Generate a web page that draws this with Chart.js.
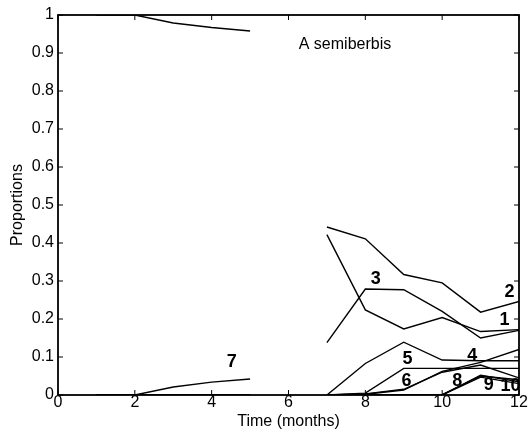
<!DOCTYPE html>
<html>
<head>
<meta charset="utf-8">
<script src="https://cdn.jsdelivr.net/npm/chart.js@4/dist/chart.umd.min.js"></script>
<style>
  html, body { margin: 0; padding: 0; background: #fff; }
</style>
</head>
<body>
<canvas id="myChart" width="531" height="436"></canvas>
<script>
// months 1..12, month 6 has no sample (gap)
const months = [1, 2, 3, 4, 5, 6, 7, 8, 9, 10, 11, 12];

const s1 = [1, 1, 0.979, 0.967, 0.958, null, 0.422, 0.224, 0.174, 0.204, 0.167, 0.172];
const s2 = [0, 0, 0, 0, 0, null, 0.442, 0.411, 0.317, 0.295, 0.218, 0.246];
const s3 = [0, 0, 0, 0, 0, null, 0.138, 0.279, 0.277, 0.22, 0.15, 0.17];
const s4 = [0, 0, 0, 0, 0, null, 0, 0.002, 0.013, 0.062, 0.086, 0.12];
const s5 = [0, 0, 0, 0, 0, null, 0, 0.083, 0.139, 0.092, 0.09, 0.09];
const s6 = [0, 0, 0, 0, 0, null, 0, 0.003, 0.015, 0.06, 0.079, 0.045];
const s7 = [0, 0, 0.021, 0.034, 0.042, null, 0, 0.005, 0.07, 0.07, 0.07, 0.07];
const s8 = [0, 0, 0, 0, 0, null, 0, 0, 0, 0.001, 0.05, 0.04];
const s9 = [0, 0, 0, 0, 0, null, 0, 0, 0, 0, 0.052, 0.035];
const s10 = [0, 0, 0, 0, 0, null, 0, 0, 0, 0, 0.047, 0.03];

const allSeries = [s1, s2, s3, s4, s5, s6, s7, s8, s9, s10];

const yTickLabels = ["0", "0.1", "0.2", "0.3", "0.4", "0.5", "0.6", "0.7", "0.8", "0.9", "1"];

// line labels, in data units
const labelText = ["7", "3", "2", "1", "5", "4", "6", "8", "9", "10"];
const labelX = [4.52, 8.27, 11.75, 11.62, 9.1, 10.78, 9.07, 10.39, 11.21, 11.78];
const labelY = [0.088, 0.306, 0.272, 0.198, 0.095, 0.103, 0.038, 0.036, 0.027, 0.023];

const species = "A semiberbis";

const FONT = "Arial, 'Liberation Sans', sans-serif";

const frame = {
  id: "frame",
  afterDatasetsDraw(chart) {
    const { ctx, chartArea: { left, right, top, bottom }, scales: { x, y } } = chart;
    ctx.save();
    ctx.strokeStyle = "#000";
    ctx.lineWidth = 1.8;
    ctx.strokeRect(left, top, right - left, bottom - top);

    // inward ticks on all four sides
    ctx.lineWidth = 1;
    ctx.beginPath();
    x.ticks.forEach(t => {
      const px = x.getPixelForValue(t.value);
      ctx.moveTo(px, bottom); ctx.lineTo(px, bottom - 5);
      ctx.moveTo(px, top); ctx.lineTo(px, top + 5);
    });
    y.ticks.forEach(t => {
      const py = y.getPixelForValue(t.value);
      ctx.moveTo(left, py); ctx.lineTo(left + 5, py);
      ctx.moveTo(right, py); ctx.lineTo(right - 5, py);
    });
    ctx.stroke();

    ctx.fillStyle = "#000";
    ctx.textAlign = "center";
    ctx.textBaseline = "middle";
    ctx.font = "bold 18px " + FONT;
    labelText.forEach((txt, i) => {
      ctx.fillText(txt, x.getPixelForValue(labelX[i]), y.getPixelForValue(labelY[i]));
    });
    ctx.font = "16px " + FONT;
    ctx.fillText(species, x.getPixelForValue(7.47), y.getPixelForValue(0.922));
    ctx.restore();
  }
};

const chart = new Chart(document.querySelector("#myChart"), {
  type: "line",
  data: {
    datasets: allSeries.map((s, i) => ({
      label: String(i + 1),
      data: months.map((m, j) => ({ x: m, y: s[j] })),
      borderColor: "#000",
      borderWidth: 1.4,
      pointRadius: 0,
      tension: 0,
      fill: false
    }))
  },
  options: {
    responsive: false,
    animation: false,
    layout: { padding: { top: 15, right: 12, left: 0, bottom: 0 } },
    plugins: {
      legend: { display: false },
      tooltip: { enabled: false }
    },
    scales: {
      x: {
        type: "linear",
        min: 0,
        max: 12,
        grid: { display: false, drawTicks: false },
        border: { display: false },
        ticks: {
          stepSize: 2,
          color: "#000",
          padding: 0,
          font: { family: FONT, size: 16, lineHeight: 1 }
        },
        title: {
          display: true,
          text: "Time (months)",
          color: "#000",
          font: { family: FONT, size: 16, lineHeight: 1 },
          padding: { top: 0, bottom: 6 }
        },
        afterFit(s) { s.height = 41; }
      },
      y: {
        min: 0,
        max: 1,
        grid: { display: false, drawTicks: false },
        border: { display: false },
        ticks: {
          stepSize: 0.1,
          color: "#000",
          padding: 4,
          font: { family: FONT, size: 16, lineHeight: 1 },
          callback: v => yTickLabels[Math.round(v * 10)]
        },
        title: {
          display: true,
          text: "Proportions",
          color: "#000",
          font: { family: FONT, size: 16, lineHeight: 1 },
          padding: { top: 10, bottom: 0 }
        },
        afterFit(s) { s.width = 58; }
      }
    }
  },
  plugins: [frame]
});
</script>
</body>
</html>
